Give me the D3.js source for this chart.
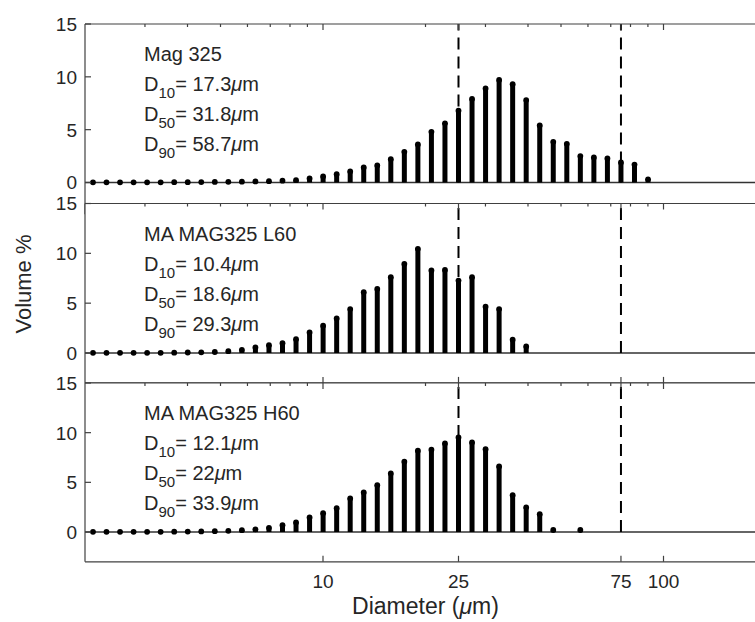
<!DOCTYPE html>
<html>
<head>
<meta charset="utf-8">
<script src="https://cdn.jsdelivr.net/npm/d3@7"></script>
<style>
  body { margin: 0; background: #fff; }
  svg { display: block; }
  text { font-family: "Liberation Sans", Arial, sans-serif; fill: #262626; }
</style>
</head>
<body>
<svg width="755" height="622"></svg>
<script>
// bin centres (um), one per stem
const diameters = [2.111, 2.313, 2.535, 2.778, 3.044, 3.336, 3.656, 4.006, 4.390, 4.811,
  5.272, 5.778, 6.332, 6.939, 7.604, 8.333, 9.132, 10.008, 10.968, 12.019,
  13.171, 14.434, 15.818, 17.334, 18.996, 20.817, 22.813, 25.0, 27.397, 30.023,
  32.901, 36.056, 39.513, 43.301, 47.452, 52.002, 56.987, 62.451, 68.438, 75.0,
  82.19, 90.07];

// volume % per bin (null = no point)
const mag325 = [0.02, 0.02, 0.02, 0.02, 0.02, 0.02, 0.03, 0.03, 0.04, 0.05,
  0.06, 0.08, 0.10, 0.13, 0.17, 0.22, 0.38, 0.57, 0.79, 1.04,
  1.42, 1.62, 2.2, 2.9, 3.6, 4.8, 5.6, 6.8, 7.9, 8.9,
  9.7, 9.3, 7.8, 5.4, 3.85, 3.66, 2.5, 2.37, 2.27, 1.9,
  1.7, 0.3];
const l60 = [0.02, 0.02, 0.02, 0.02, 0.02, 0.02, 0.03, 0.05, 0.07, 0.10,
  0.18, 0.32, 0.55, 0.79, 0.99, 1.39, 2.06, 2.74, 3.47, 4.41,
  6.1, 6.42, 7.6, 8.94, 10.45, 8.28, 8.34, 7.27, 7.6, 4.65,
  4.41, 1.33, 0.65, null, null, null, null, null, null, null,
  null, null];
const h60 = [0.02, 0.02, 0.02, 0.02, 0.02, 0.02, 0.03, 0.04, 0.06, 0.08,
  0.12, 0.18, 0.27, 0.42, 0.69, 0.96, 1.46, 1.89, 2.4, 3.37,
  3.98, 4.71, 5.89, 7.07, 8.18, 8.28, 8.91, 9.52, 9.01, 8.34,
  6.6, 3.71, 2.47, 1.79, 0.2, null, 0.2, null, null, null,
  null, null];

const sampleNames = ["Mag 325", "MA MAG325 L60", "MA MAG325 H60"];
const d10 = ["17.3", "10.4", "12.1"];
const d50 = ["31.8", "18.6", "22"];
const d90 = ["58.7", "29.3", "33.9"];
const series = [mag325, l60, h60];

const xTicks = [10, 25, 75, 100];
const xMinor = [3, 4, 5, 6, 7, 8, 9, 20, 30, 40, 50, 60, 70, 80, 90];
const yTicks = [0, 5, 10, 15];
const refLines = [25, 75];

const svg = d3.select("svg");
const left = 85, right = 766;
const x = d3.scaleLog().domain([2, 200]).range([left, right]);

// pixel position of y=15 and y=0 for each panel
const layout = [
  { top: 24, zero: 182.5 },
  { top: 203.5, zero: 353 },
  { top: 383, zero: 532 }
];
const axisColor = "#404040";

layout.forEach((L, pi) => {
  const bottom = L.zero + (L.zero - L.top) * 3 / 15;
  const y = d3.scaleLinear().domain([-3, 15]).range([bottom, L.top]);
  const g = svg.append("g");

  g.append("clipPath").attr("id", "clip" + pi)
    .append("rect").attr("x", left).attr("y", L.top).attr("width", right - left).attr("height", bottom - L.top);

  g.append("rect").attr("x", left).attr("y", L.top).attr("width", right - left).attr("height", bottom - L.top)
    .attr("fill", "#fff");

  const plot = g.append("g").attr("clip-path", "url(#clip" + pi + ")");

  // stem baseline
  plot.append("line").attr("x1", left).attr("x2", right)
    .attr("y1", y(0)).attr("y2", y(0))
    .attr("stroke", "#333").attr("stroke-width", 1.3);

  const pts = diameters.map((d, i) => ({ d, v: series[pi][i] })).filter(p => p.v != null);

  plot.selectAll("line.stem").data(pts).enter().append("line")
    .attr("class", "stem")
    .attr("x1", p => x(p.d)).attr("x2", p => x(p.d))
    .attr("y1", y(0)).attr("y2", p => y(p.v))
    .attr("stroke", "#000").attr("stroke-width", 5);

  plot.selectAll("circle").data(pts).enter().append("circle")
    .attr("cx", p => x(p.d)).attr("cy", p => y(p.v)).attr("r", 2.9)
    .attr("fill", "#000");

  // dashed reference lines
  plot.selectAll("line.ref").data(refLines).enter().append("line")
    .attr("class", "ref")
    .attr("x1", d => x(d)).attr("x2", d => x(d))
    .attr("y1", y(0)).attr("y2", y(15))
    .attr("stroke", "#000").attr("stroke-width", 2)
    .attr("stroke-dasharray", "12,7");

  // box (top, left, bottom)
  g.append("line").attr("x1", left).attr("x2", right).attr("y1", L.top).attr("y2", L.top)
    .attr("stroke", axisColor).attr("stroke-width", 1.2);
  g.append("line").attr("x1", left).attr("x2", right).attr("y1", bottom).attr("y2", bottom)
    .attr("stroke", axisColor).attr("stroke-width", 1.2);
  g.append("line").attr("x1", left).attr("x2", left).attr("y1", L.top).attr("y2", bottom)
    .attr("stroke", axisColor).attr("stroke-width", 1.2);

  // x ticks: top major + minor, bottom major
  g.selectAll("line.xt").data(xTicks).enter().append("line")
    .attr("x1", d => x(d)).attr("x2", d => x(d)).attr("y1", L.top).attr("y2", L.top + 6)
    .attr("stroke", axisColor).attr("stroke-width", 1.2);
  g.selectAll("line.xm").data(xMinor).enter().append("line")
    .attr("x1", d => x(d)).attr("x2", d => x(d)).attr("y1", L.top).attr("y2", L.top + 3)
    .attr("stroke", axisColor).attr("stroke-width", 1.2);
  g.selectAll("line.xb").data(xTicks).enter().append("line")
    .attr("x1", d => x(d)).attr("x2", d => x(d)).attr("y1", bottom).attr("y2", bottom - 6)
    .attr("stroke", axisColor).attr("stroke-width", 1.2);

  // y ticks
  g.selectAll("line.yt").data(yTicks).enter().append("line")
    .attr("x1", left).attr("x2", left + 6).attr("y1", d => y(d)).attr("y2", d => y(d))
    .attr("stroke", axisColor).attr("stroke-width", 1.2);
  g.selectAll("text.yl").data(yTicks).enter().append("text")
    .attr("x", left - 8).attr("y", d => y(d)).attr("dy", "0.36em")
    .attr("text-anchor", "end").attr("font-size", 19).text(d => d);

  // annotation
  const ann = g.append("g").attr("font-size", 20);
  ann.append("text").attr("x", 144).attr("y", L.top + 37).text(sampleNames[pi]);
  [["10", d10[pi]], ["50", d50[pi]], ["90", d90[pi]]].forEach((r, j) => {
    const t = ann.append("text").attr("x", 144).attr("y", L.top + 67 + 30 * j);
    t.append("tspan").text("D");
    t.append("tspan").attr("font-size", 15).attr("dy", 7).text(r[0]);
    t.append("tspan").attr("dy", -7).text("= " + r[1]);
    t.append("tspan").attr("font-style", "italic").text("\u03bc");
    t.append("tspan").text("m");
  });

  if (pi === layout.length - 1) {
    g.selectAll("text.xl").data(xTicks).enter().append("text")
      .attr("x", d => x(d)).attr("y", bottom + 26)
      .attr("text-anchor", "middle").attr("font-size", 19).text(d => d);
  }
});

// axis titles
const xl = svg.append("text").attr("x", (left + right) / 2).attr("y", 614)
  .attr("text-anchor", "middle").attr("font-size", 23);
xl.append("tspan").text("Diameter (");
xl.append("tspan").attr("font-style", "italic").text("\u03bc");
xl.append("tspan").text("m)");

svg.append("text").attr("transform", "translate(31,284) rotate(-90)")
  .attr("text-anchor", "middle").attr("font-size", 22).text("Volume %");
</script>
</body>
</html>
